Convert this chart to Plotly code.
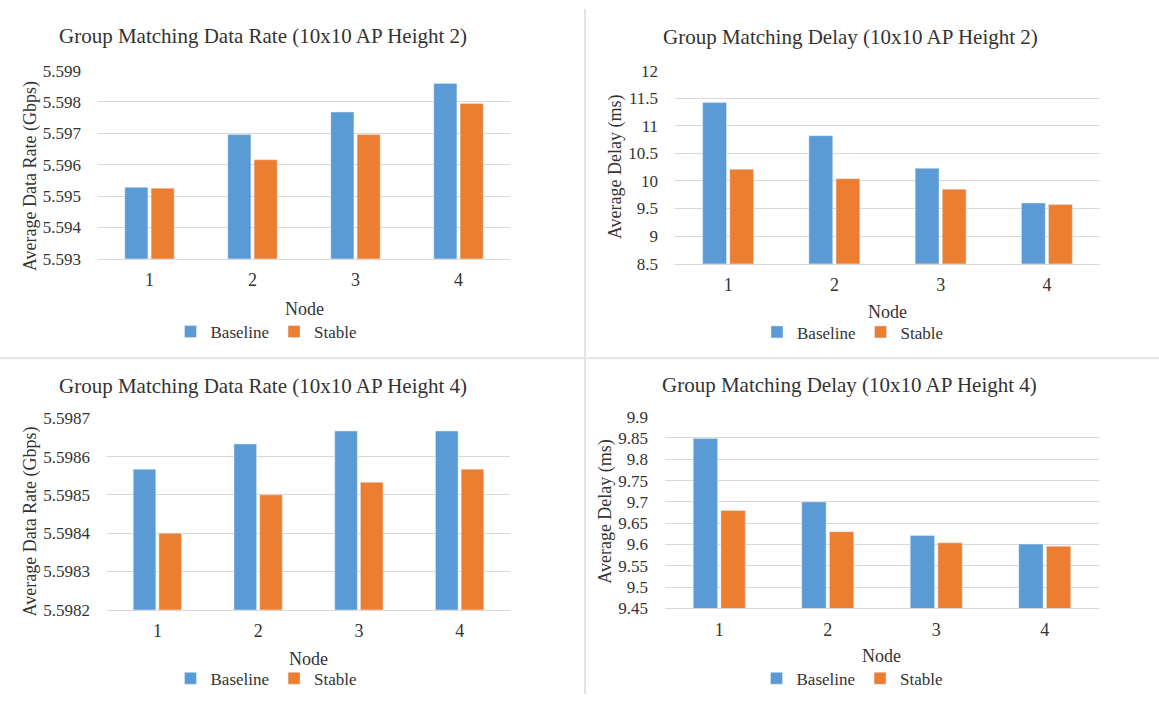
import plotly.graph_objects as go

W, H = 1159, 704

nodes = ["1", "2", "3", "4"]

# Panel 1: Data rate, height 2 (Gbps)
rate_h2_baseline = [5.59528, 5.59696, 5.59768, 5.59859]
rate_h2_stable = [5.59525, 5.59616, 5.59696, 5.59795]
rate_h2_ticks = [5.593, 5.594, 5.595, 5.596, 5.597, 5.598, 5.599]
rate_h2_ticktext = ["5.593", "5.594", "5.595", "5.596", "5.597", "5.598", "5.599"]

# Panel 2: Delay, height 2 (ms)
delay_h2_baseline = [11.42, 10.82, 10.23, 9.60]
delay_h2_stable = [10.21, 10.04, 9.85, 9.57]
delay_h2_ticks = [8.5, 9, 9.5, 10, 10.5, 11, 11.5, 12]
delay_h2_ticktext = ["8.5", "9", "9.5", "10", "10.5", "11", "11.5", "12"]

# Panel 3: Data rate, height 4 (Gbps)
rate_h4_baseline = [5.598567, 5.598633, 5.598667, 5.598667]
rate_h4_stable = [5.598400, 5.598500, 5.598533, 5.598567]
rate_h4_ticks = [5.5982, 5.5983, 5.5984, 5.5985, 5.5986, 5.5987]
rate_h4_ticktext = ["5.5982", "5.5983", "5.5984", "5.5985", "5.5986", "5.5987"]

# Panel 4: Delay, height 4 (ms)
delay_h4_baseline = [9.849, 9.700, 9.621, 9.601]
delay_h4_stable = [9.680, 9.630, 9.604, 9.596]
delay_h4_ticks = [9.45, 9.5, 9.55, 9.6, 9.65, 9.7, 9.75, 9.8, 9.85, 9.9]
delay_h4_ticktext = ["9.45", "9.5", "9.55", "9.6", "9.65", "9.7", "9.75", "9.8", "9.85", "9.9"]

titles = [
    "Group Matching Data Rate (10x10 AP Height 2)",
    "Group Matching Delay (10x10 AP Height 2)",
    "Group Matching Data Rate (10x10 AP Height 4)",
    "Group Matching Delay (10x10 AP Height 4)",
]
ytitles = ["Average Data Rate (Gbps)", "Average Delay (ms)",
           "Average Data Rate (Gbps)", "Average Delay (ms)"]
xtitle = "Node"

BLUE = "#5B9BD5"
ORANGE = "#ED7D31"
GRID = "#D9D9D9"
TXT = "#333333"
FONT = "Liberation Serif"

def px_x(x):
    return x / W

def px_y(y):
    return 1 - y / H

# panel geometry in pixels: (x0, x1, ytop, ybottom)
panels = [
    (98, 510, 63.3, 256.7),
    (675, 1100, 63.3, 261.7),
    (107, 510, 420.7, 617.3),
    (665, 1099, 419, 616),
]
data = [
    (rate_h2_baseline, rate_h2_stable, rate_h2_ticks, rate_h2_ticktext),
    (delay_h2_baseline, delay_h2_stable, delay_h2_ticks, delay_h2_ticktext),
    (rate_h4_baseline, rate_h4_stable, rate_h4_ticks, rate_h4_ticktext),
    (delay_h4_baseline, delay_h4_stable, delay_h4_ticks, delay_h4_ticktext),
]
title_pos = [(263, 28), (850, 29), (263, 387), (849, 386)]
ytitle_pos = [(30, 171.7), (615, 162.5), (30, 526.7), (606, 516.7)]
xtitle_pos = [(304, 308), (887, 311.5), (308.5, 668.3), (882, 665)]
legend_pos = [(266.5, 332), (853, 332.3), (266.5, 688.3), (852.5, 688.3)]

fig = go.Figure()
layout = dict(
    width=W, height=H,
    margin=dict(l=0, r=0, t=0, b=0),
    paper_bgcolor="white", plot_bgcolor="white",
    font=dict(family=FONT, color=TXT, size=17),
    barmode="group", bargap=0.49, bargroupgap=0.12,
    annotations=[], shapes=[],
)

for i, ((x0, x1, yt, yb), (b, s, tv, tt)) in enumerate(zip(panels, data)):
    n = "" if i == 0 else str(i + 1)
    leg = "legend" + n
    fig.add_trace(go.Bar(x=nodes, y=b, name="Baseline", marker=dict(color=BLUE),
                         xaxis="x" + n, yaxis="y" + n, legend=leg))
    fig.add_trace(go.Bar(x=nodes, y=s, name="Stable", marker=dict(color=ORANGE),
                         xaxis="x" + n, yaxis="y" + n, legend=leg))
    layout["xaxis" + n] = dict(
        domain=[px_x(x0), px_x(x1)], anchor="y" + n,
        showline=True, linecolor=GRID, linewidth=1, showgrid=False,
        ticks="", tickfont=dict(size=18, color=TXT), ticklabelstandoff=5,
    )
    layout["yaxis" + n] = dict(
        domain=[px_y(yb), px_y(yt)], anchor="x" + n,
        range=[tv[0], tv[-1]], tickvals=tv, ticktext=tt,
        showgrid=True, gridcolor=GRID, gridwidth=1, zeroline=False, showline=False,
        ticks="", tickfont=dict(size=17, color=TXT), ticklabelstandoff=16,
    )
    lx, ly = legend_pos[i]
    layout[leg] = dict(
        orientation="h", x=px_x(lx), y=px_y(ly), xanchor="center", yanchor="middle",
        font=dict(size=17, color=TXT), itemwidth=30, tracegroupgap=0,
        bgcolor="rgba(0,0,0,0)",
    )
    tx, ty = title_pos[i]
    layout["annotations"].append(dict(
        text=titles[i], x=px_x(tx), y=px_y(ty), xref="paper", yref="paper",
        xanchor="center", yanchor="middle", showarrow=False,
        font=dict(size=21, color=TXT)))
    ax_, ay_ = ytitle_pos[i]
    layout["annotations"].append(dict(
        text=ytitles[i], x=px_x(ax_), y=px_y(ay_), xref="paper", yref="paper",
        xanchor="center", yanchor="middle", showarrow=False, textangle=-90,
        font=dict(size=18, color=TXT)))
    nx, ny = xtitle_pos[i]
    layout["annotations"].append(dict(
        text=xtitle, x=px_x(nx), y=px_y(ny), xref="paper", yref="paper",
        xanchor="center", yanchor="middle", showarrow=False,
        font=dict(size=18, color=TXT)))

# panel separators
layout["shapes"].append(dict(type="line", xref="paper", yref="paper",
                             x0=px_x(585), x1=px_x(585), y0=0, y1=1,
                             line=dict(color="#E3E3E3", width=2)))
layout["shapes"].append(dict(type="line", xref="paper", yref="paper",
                             x0=0, x1=1, y0=px_y(359), y1=px_y(359),
                             line=dict(color="#E3E3E3", width=2)))

fig.update_layout(**layout)
fig.write_html("out.html")
